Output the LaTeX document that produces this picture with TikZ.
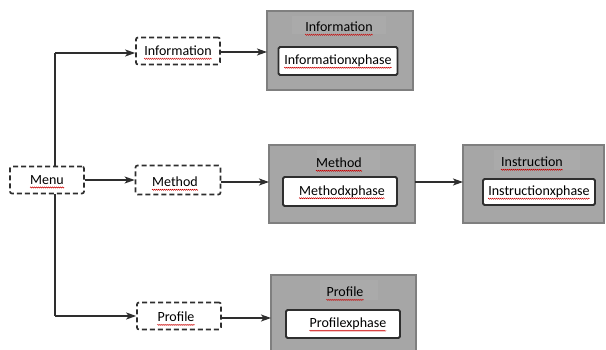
\documentclass[tikz,border=0pt]{standalone}
\usepackage{fontspec}
\setmainfont{Carlito}
\usetikzlibrary{arrows.meta,decorations.pathmorphing}
\definecolor{panelgray}{HTML}{A6A6A6}
\definecolor{titlegray}{HTML}{AAAAAA}
\definecolor{edgegray}{HTML}{7F7F7F}
\definecolor{ink}{HTML}{2E2E2E}
\tikzset{
  menubox/.style={draw=ink, dash pattern=on 5pt off 3pt, line width=1.7pt,
    rounded corners=2pt, fill=white, inner sep=0pt},
  panel/.style={draw=edgegray, line width=1.2pt, fill=panelgray},
  phasebox/.style={draw=ink, line width=1.9pt, rounded corners=1.5pt, fill=white, inner sep=0pt},
  word/.style={font=\fontsize{14}{16}\selectfont, inner sep=0pt},
  wire/.style={draw=ink, line width=1.5pt},
  flow/.style={wire, -{Stealth[length=10pt,width=7pt,inset=2.5pt]}},
  squiggle/.style={draw=red!80!black, line width=0.45pt,
    decorate, decoration={zigzag, segment length=2pt, amplitude=0.6pt}}
}
% a text node with the wavy red underline of a spell checker
\newcommand\wavytext[3]{%
  \node[word] (#1) at (#2) {#3};
  \draw[squiggle] ([yshift=-3pt]#1.base west) -- ([yshift=-3pt]#1.base east);}
\begin{document}
\begin{tikzpicture}[x=1pt,y=-1pt]
  \useasboundingbox (0,0) rectangle (606,350);

  % grey panels with their titles and inner phase boxes
  \draw[panel] (267,11) rectangle (413,90);
  \fill[titlegray] (292,16) rectangle (386,34);
  \wavytext{infotitle}{339,27}{Information}
  \node[phasebox, minimum width=119pt, minimum height=28pt] (infophase) at (338,61) {};
  \wavytext{infophasetext}{338,61}{Informationxphase}

  \draw[panel] (269,145) rectangle (415,223);
  \fill[titlegray] (317,150) rectangle (380,170);
  \wavytext{methtitle}{339,163}{Method}
  \node[phasebox, minimum width=114pt, minimum height=29pt] (methphase) at (340,191.5) {};
  \wavytext{methphasetext}{342,191.5}{Methodxphase}

  \draw[panel] (463,145) rectangle (604,223);
  \fill[titlegray] (494,150) rectangle (580,170);
  \wavytext{insttitle}{532,162}{Instruction}
  \node[phasebox, minimum width=112pt, minimum height=26pt] (instphase) at (539,192) {};
  \wavytext{instphasetext}{539,192}{Instructionxphase}

  \draw[panel] (271,275) rectangle (416,352);
  \fill[titlegray] (320,280) rectangle (378,300);
  \wavytext{proftitle}{345,292}{Profile}
  \node[phasebox, minimum width=114pt, minimum height=28pt] (profphase) at (343,324) {};
  \wavytext{profphasetext}{348,324}{Profilexphase}

  % dashed menu entries
  \node[menubox, minimum width=74pt, minimum height=27pt] (menu) at (47,180) {};
  \wavytext{menutext}{47,180}{Menu}
  \node[menubox, minimum width=84pt, minimum height=27pt] (info) at (178,51) {};
  \wavytext{infotext}{178,51}{Information}
  \node[menubox, minimum width=85pt, minimum height=29pt] (meth) at (178,180) {};
  \wavytext{methtext}{175,182}{Method}
  \node[menubox, minimum width=84pt, minimum height=27pt] (prof) at (179,316) {};
  \wavytext{proftext}{176,317}{Profile}

  % connectors
  \coordinate (up) at (55,53);
  \coordinate (down) at (55,316);
  \draw[wire] (menu.north -| up) -- (up);
  \draw[flow] (up) -- (info.west |- up);
  \draw[wire] (menu.south -| down) -- (down);
  \draw[flow] (down) -- (prof.west |- down);
  \draw[flow] (menu.east |- 0,180) -- (meth.west |- 0,180);

  \draw[flow] (info.east |- 0,52) -- (267,52);
  \draw[flow] (meth.east |- 0,182) -- (269,182);
  \draw[flow] (415,182) -- (463,182);
  \draw[flow] (prof.east |- 0,318) -- (271,318);
\end{tikzpicture}
\end{document}
